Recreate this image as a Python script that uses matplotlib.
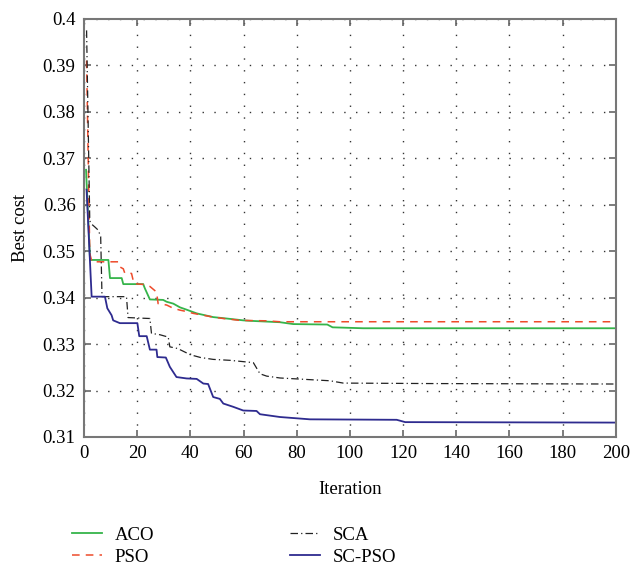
import matplotlib
matplotlib.use("Agg")
import matplotlib.pyplot as plt

# values
aco_it = [0.8, 2.3, 9.2, 9.8, 14.2, 14.8, 22.3, 22.9, 24.8, 29.8, 31.1, 33.6, 36.1,
          38.6, 42.4, 48.6, 53.6, 59.9, 62.4, 73.7, 78.7, 91.5, 93.5, 105, 200]
aco_cost = [0.3675, 0.3481, 0.3481, 0.3442, 0.3442, 0.3429, 0.3429, 0.3420, 0.3396,
            0.3395, 0.3391, 0.3387, 0.3379, 0.3374, 0.3366, 0.3358, 0.3355, 0.3351,
            0.3350, 0.3347, 0.3343, 0.3342, 0.3336, 0.3334, 0.3334]

pso_it = [1, 2.2, 3, 9.8, 12.9, 13.5, 14.8, 15.4, 17.9, 18.8, 22.9, 24.8, 27.3, 27.9,
          31.1, 33.6, 36.1, 38.6, 41.1, 44.9, 48.6, 52.4, 58.6, 68.7, 73.7, 200]
pso_cost = [0.391, 0.3495, 0.3477, 0.3477, 0.3477, 0.3466, 0.3462, 0.3452, 0.3452,
            0.3430, 0.3428, 0.3424, 0.3412, 0.3387, 0.3384, 0.3377, 0.3373, 0.3370,
            0.3366, 0.3362, 0.3358, 0.3355, 0.3351, 0.3350, 0.3348, 0.3348]

sca_it = [1, 2.2, 2.9, 4.1, 5.4, 6.3, 6.8, 16.0, 16.6, 20.4, 24.8, 25.4, 28.6, 31.7,
          32.3, 34.8, 36.1, 40.0, 43.9, 48.6, 54.9, 63.7, 66.2, 68.7, 73.7, 92.5,
          97.5, 130, 200]
sca_cost = [0.3975, 0.3565, 0.3558, 0.3552, 0.3545, 0.3531, 0.3402, 0.3402, 0.3357,
            0.3356, 0.3355, 0.3323, 0.3320, 0.3315, 0.3294, 0.3291, 0.3288, 0.3277,
            0.3271, 0.3267, 0.3265, 0.3260, 0.3236, 0.3231, 0.3227, 0.3221, 0.3216,
            0.3215, 0.3214]

scpso_it = [1, 2.9, 7.9, 8.8, 10.4, 11.0, 13.5, 20.1, 20.8, 23.6, 24.8, 27.3, 27.6,
            30.8, 32.3, 34.8, 38.6, 42.4, 44.9, 46.7, 48.6, 51.1, 52.4, 56.1, 59.9,
            64.9, 66.2, 73.7, 85, 117.6, 120.8, 200]
scpso_cost = [0.3632, 0.3402, 0.3402, 0.3377, 0.3362, 0.3351, 0.3345, 0.3345, 0.3317,
              0.3317, 0.3288, 0.3288, 0.3272, 0.3271, 0.3251, 0.3229, 0.3226, 0.3225,
              0.3215, 0.3214, 0.3186, 0.3182, 0.3172, 0.3165, 0.3157, 0.3156, 0.3149,
              0.3143, 0.3138, 0.3137, 0.3132, 0.3131]

x_ticks = list(range(0, 201, 20))
y_ticks = [0.31, 0.32, 0.33, 0.34, 0.35, 0.36, 0.37, 0.38, 0.39, 0.4]
y_tick_labels = ["0.31", "0.32", "0.33", "0.34", "0.35", "0.36", "0.37", "0.38", "0.39", "0.4"]

plt.rcParams['font.family'] = ['Liberation Serif', 'DejaVu Serif']

fig = plt.figure(figsize=(6.31, 5.69), dpi=100)
ax = fig.add_axes([0.133, 0.232, 0.843, 0.735])

ax.plot(aco_it, aco_cost, color='#35b44a', lw=1.3, label='ACO')
ax.plot(pso_it, pso_cost, color='#ee4b2b', lw=1.1, ls=(0, (5, 4)), label='PSO')
ax.plot(sca_it, sca_cost, color='#222222', lw=0.9, ls=(0, (6, 2.5, 1, 2.5)), label='SCA')
ax.plot(scpso_it, scpso_cost, color='#2e2b8f', lw=1.3, label='SC-PSO')

ax.set_xlim(0, 200)
ax.set_ylim(0.31, 0.4)
ax.set_xticks(x_ticks)
ax.set_yticks(y_ticks)
ax.set_yticklabels(y_tick_labels)
ax.grid(True, color='#333333', lw=1.0, ls=(0, (1, 7.5)))
ax.tick_params(direction='in', top=True, right=True, length=5, width=1.2,
               color='#666666', labelsize=13.5, pad=6)
for s in ax.spines.values():
    s.set_color('#777777')
    s.set_linewidth(1.5)

ax.set_xlabel('Iteration', fontsize=13.5, labelpad=13.5)
ax.set_ylabel('Best cost', fontsize=13.5, labelpad=10)

fig.legend(loc='upper left', bbox_to_anchor=(0.103, 0.088), ncol=2, frameon=False,
           fontsize=13.5, handlelength=1.6, handletextpad=0.65, columnspacing=7.25,
           labelspacing=0.27, borderaxespad=0)

fig.savefig('out.png', dpi=100)
